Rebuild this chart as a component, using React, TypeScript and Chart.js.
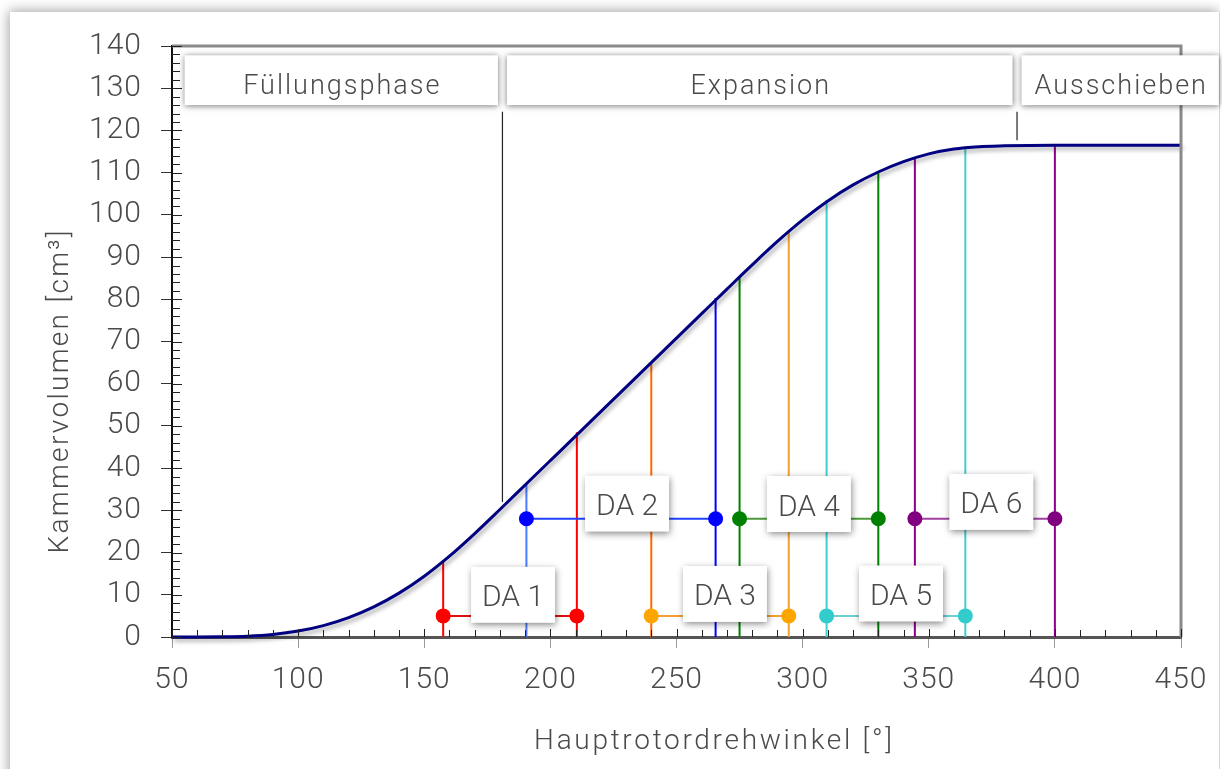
import React, { useEffect, useRef } from "react";
import { Chart, registerables } from "chart.js";

Chart.register(...registerables);

const W = 1222;
const H = 769;
const FONT = "Roboto, 'Noto Sans', sans-serif";
const TEXT = "#4a4a4a";

// Chamber volume over main rotor angle
const rotorAngle = [
  50, 60, 70, 80, 90, 100, 110, 120, 130, 140, 150, 160, 170, 180, 190, 200, 210, 220, 230, 240,
  250, 260, 270, 280, 290, 300, 310, 320, 330, 340, 350, 360, 370, 380, 390, 400, 410, 420, 430,
  440, 450,
];
const chamberVolume = [
  0, 0, 0.05, 0.2, 0.6, 1.4, 2.7, 4.6, 7.15, 10.4, 14.4, 19.15, 24.5, 30.2, 36.0, 41.8, 47.6, 53.4,
  59.2, 65.0, 70.8, 76.6, 82.4, 88.15, 93.7, 98.8, 103.3, 107.1, 110.15, 112.6, 114.45, 115.6,
  116.15, 116.35, 116.45, 116.5, 116.5, 116.5, 116.5, 116.5, 116.5,
];

// Pressure measurement windows (DA 1 … DA 6)
const daNames = ["DA 1", "DA 2", "DA 3", "DA 4", "DA 5", "DA 6"];
const daStart = [157.5, 190.5, 240, 275, 309.5, 344.5];
const daEnd = [210.5, 265.5, 294.5, 330, 364.5, 400];
const daStartTop = [18.2, 36.2, 65.1, 85.5, 103.5, 113.7];
const daEndTop = [48.5, 80.3, 96.4, 110.1, 116.0, 116.5];
const daLevel = [5, 28, 5, 28, 5, 28];
const daLabelX = [185.2, 230.4, 269.2, 302.5, 339.0, 374.8];
const daLabelY = [10.0, 31.6, 10.2, 31.5, 10.3, 32.0];
const daMarkerColor = ["#ff0000", "#0000ff", "#ffa500", "#008000", "#33cccc", "#800080"];
const daStartColor = ["#ff0000", "#4a7aff", "#ff6a00", "#008000", "#40cfcf", "#8b008b"];
const daEndColor = ["#ff0000", "#0000ff", "#f0a030", "#008000", "#40cfcf", "#8b008b"];
const daBridgeColor = ["#e01010", "#2040ff", "#f0a030", "#4a9a3a", "#70d0d0", "#a040a0"];

// Working phases along the rotor angle
const phaseNames = ["Füllungsphase", "Expansion", "Ausschieben"];
const phaseEdges = [55, 181, 385, 465];
const phaseBandTop = 137.8;
const phaseBandBottom = 126.0;
const phaseMarkAngle = [181, 385];
const phaseMarkTop = [124.4, 124.4];
const phaseMarkBottom = [32.0, 117.7];

// Axis ranges and tick steps
const xMin = 50;
const xMax = 450;
const xStep = 50;
const xMinorStep = 10;
const yMin = 0;
const yMax = 140;
const yStep = 10;
const yMinorStep = 2;

const xTitle = "Hauptrotordrehwinkel [°]";
const yTitle = "Kammervolumen [cm³]";

function spacedText(ctx: CanvasRenderingContext2D, text: string, x: number, y: number, spacing: number) {
  (ctx as any).letterSpacing = `${spacing}px`;
  ctx.fillText(text, x + spacing / 2, y);
  (ctx as any).letterSpacing = "0px";
}

const decorPlugin = {
  id: "decor",
  beforeDraw(chart: any) {
    const ctx = chart.ctx as CanvasRenderingContext2D;
    ctx.save();
    ctx.fillStyle = "#ffffff";
    ctx.fillRect(0, 0, W, H);
    ctx.shadowColor = "rgba(0,0,0,0.38)";
    ctx.shadowBlur = 12;
    ctx.shadowOffsetX = -1;
    ctx.shadowOffsetY = -1;
    ctx.fillStyle = "#ffffff";
    ctx.fillRect(10, 12, 1209, H + 20);
    ctx.restore();
    ctx.save();
    ctx.fillStyle = "#ffffff";
    ctx.fillRect(1220, 0, 2, H);
    ctx.strokeStyle = "#d6d6d6";
    ctx.lineWidth = 1;
    ctx.beginPath();
    ctx.moveTo(1219.5, 12);
    ctx.lineTo(1219.5, H);
    ctx.stroke();
    ctx.restore();
    // tick labels are set slightly wider than the font's default tracking
    (ctx as any).letterSpacing = "1px";
  },
  beforeDatasetDraw(chart: any, args: any) {
    if (args.index === 0) {
      const ctx = chart.ctx as CanvasRenderingContext2D;
      ctx.save();
      ctx.shadowColor = "rgba(0,0,0,0.35)";
      ctx.shadowBlur = 4;
      ctx.shadowOffsetX = 2;
      ctx.shadowOffsetY = 3;
    }
  },
  afterDatasetDraw(chart: any, args: any) {
    if (args.index === 0) chart.ctx.restore();
  },
  afterDatasetsDraw(chart: any) {
    const ctx = chart.ctx as CanvasRenderingContext2D;
    (ctx as any).letterSpacing = "0px";
    const xs = chart.scales.x;
    const ys = chart.scales.y;
    const { left, right, top, bottom } = chart.chartArea;

    // top and right frame
    ctx.save();
    ctx.strokeStyle = "#8a8a8a";
    ctx.lineWidth = 3;
    ctx.beginPath();
    ctx.moveTo(left, top);
    ctx.lineTo(right, top);
    ctx.lineTo(right, bottom);
    ctx.stroke();
    ctx.restore();

    // inner major and minor tick marks
    ctx.save();
    ctx.strokeStyle = "#222";
    ctx.lineWidth = 1;
    ctx.beginPath();
    for (let v = yMin; v <= yMax + 1e-6; v += yMinorStep) {
      const py = Math.round(ys.getPixelForValue(v)) + 0.5;
      const len = v % yStep === 0 ? 10 : 8;
      ctx.moveTo(left, py);
      ctx.lineTo(left + len, py);
    }
    for (let v = xMin; v <= xMax + 1e-6; v += xMinorStep) {
      const px = Math.round(xs.getPixelForValue(v)) + 0.5;
      const len = v % xStep === 0 ? 8 : 7;
      ctx.moveTo(px, bottom);
      ctx.lineTo(px, bottom - len);
    }
    ctx.stroke();
    ctx.restore();

    // phase boundary markers
    ctx.save();
    ctx.strokeStyle = "#222";
    ctx.lineWidth = 1.2;
    ctx.beginPath();
    phaseMarkAngle.forEach((a, i) => {
      const px = xs.getPixelForValue(a);
      ctx.moveTo(px, ys.getPixelForValue(phaseMarkTop[i]));
      ctx.lineTo(px, ys.getPixelForValue(phaseMarkBottom[i]));
    });
    ctx.stroke();
    ctx.restore();

    // DA label boxes
    const boxW = 84;
    const boxH = 56;
    daNames.forEach((name, i) => {
      const cx = xs.getPixelForValue(daLabelX[i]);
      const cy = ys.getPixelForValue(daLabelY[i]);
      ctx.save();
      ctx.shadowColor = "rgba(0,0,0,0.5)";
      ctx.shadowBlur = 7;
      ctx.shadowOffsetX = 1;
      ctx.shadowOffsetY = 2;
      ctx.fillStyle = "#ffffff";
      ctx.fillRect(cx - boxW / 2, cy - boxH / 2, boxW, boxH);
      ctx.restore();
      ctx.save();
      ctx.fillStyle = TEXT;
      ctx.font = `300 30px ${FONT}`;
      ctx.textAlign = "center";
      ctx.textBaseline = "alphabetic";
      ctx.fillText(name, cx, cy + 11.5);
      ctx.restore();
    });

    // phase boxes
    const bandTop = ys.getPixelForValue(phaseBandTop);
    const bandBottom = ys.getPixelForValue(phaseBandBottom);
    phaseNames.forEach((name, i) => {
      const x0 = xs.getPixelForValue(phaseEdges[i]) + (i > 0 ? 4.5 : 0);
      const x1 = xs.getPixelForValue(phaseEdges[i + 1]) - (i < phaseNames.length - 1 ? 4.5 : 0);
      ctx.save();
      ctx.shadowColor = "rgba(0,0,0,0.55)";
      ctx.shadowBlur = 6;
      ctx.shadowOffsetX = 0;
      ctx.shadowOffsetY = 1;
      ctx.fillStyle = "#ffffff";
      ctx.fillRect(x0, bandTop, x1 - x0, bandBottom - bandTop);
      ctx.restore();
      ctx.save();
      ctx.fillStyle = TEXT;
      ctx.font = `300 27px ${FONT}`;
      ctx.textAlign = "center";
      ctx.textBaseline = "alphabetic";
      spacedText(ctx, name, (x0 + x1) / 2, (bandTop + bandBottom) / 2 + 13.5, 2);
      ctx.restore();
    });
  },
  afterDraw(chart: any) {
    const ctx = chart.ctx as CanvasRenderingContext2D;
    ctx.save();
    ctx.fillStyle = TEXT;
    ctx.font = `300 28px ${FONT}`;
    ctx.textAlign = "center";
    ctx.textBaseline = "middle";
    spacedText(ctx, xTitle, 713, 742, 2.7);
    ctx.translate(61, 392);
    ctx.rotate(-Math.PI / 2);
    spacedText(ctx, yTitle, 0, 0, 2.3);
    ctx.restore();
  },
};

function buildDatasets() {
  const sets: any[] = [
    {
      label: "Kammervolumen",
      data: rotorAngle.map((a, i) => ({ x: a, y: chamberVolume[i] })),
      borderColor: "#000080",
      borderWidth: 3,
      pointRadius: 0,
      cubicInterpolationMode: "monotone",
      clip: false,
      order: 0,
    },
  ];
  daNames.forEach((name, i) => {
    sets.push({
      label: name,
      data: [
        { x: daStart[i], y: daLevel[i] },
        { x: daEnd[i], y: daLevel[i] },
      ],
      borderColor: daBridgeColor[i],
      borderWidth: 2,
      pointRadius: 7.5,
      pointBackgroundColor: daMarkerColor[i],
      pointBorderWidth: 0,
      clip: false,
      order: 1,
    });
    sets.push({
      label: name + " Beginn",
      data: [
        { x: daStart[i], y: 0 },
        { x: daStart[i], y: daStartTop[i] },
      ],
      borderColor: daStartColor[i],
      borderWidth: 2,
      pointRadius: 0,
      clip: false,
      order: 2,
    });
    sets.push({
      label: name + " Ende",
      data: [
        { x: daEnd[i], y: 0 },
        { x: daEnd[i], y: daEndTop[i] },
      ],
      borderColor: daEndColor[i],
      borderWidth: 2,
      pointRadius: 0,
      clip: false,
      order: 2,
    });
  });
  return sets;
}

export default function App() {
  const canvasRef = useRef<HTMLCanvasElement | null>(null);

  useEffect(() => {
    if (!canvasRef.current) return;
    const tickFont = { family: FONT, size: 30, weight: 300 as any, lineHeight: 1.2 };
    const chart = new Chart(canvasRef.current, {
      type: "line",
      data: { datasets: buildDatasets() },
      options: {
        animation: false,
        responsive: false,
        devicePixelRatio: 1,
        layout: { padding: { left: 0, right: 41, top: 46, bottom: 0 } },
        plugins: { legend: { display: false }, tooltip: { enabled: false } },
        scales: {
          x: {
            type: "linear",
            min: xMin,
            max: xMax,
            ticks: { stepSize: xStep, font: tickFont, color: TEXT, padding: 14, maxRotation: 0 },
            grid: { drawOnChartArea: false, drawTicks: true, tickLength: 11, color: "#9a9a9a", lineWidth: 1 },
            border: { display: true, color: "#555", width: 3 },
            afterFit: (s: any) => {
              s.height = 132;
            },
          },
          y: {
            type: "linear",
            min: yMin,
            max: yMax,
            ticks: { stepSize: yStep, font: tickFont, color: TEXT, padding: 19 },
            grid: { drawOnChartArea: false, drawTicks: true, tickLength: 11, color: "#333", lineWidth: 1 },
            border: { display: true, color: "#111", width: 2 },
            afterFit: (s: any) => {
              s.width = 172;
            },
          },
        },
      },
      plugins: [decorPlugin],
    });
    return () => chart.destroy();
  }, []);

  return (
    <div style={{ position: "fixed", left: 0, top: 0, width: W, height: H }}>
      <canvas ref={canvasRef} width={W} height={H} style={{ display: "block" }} />
    </div>
  );
}
